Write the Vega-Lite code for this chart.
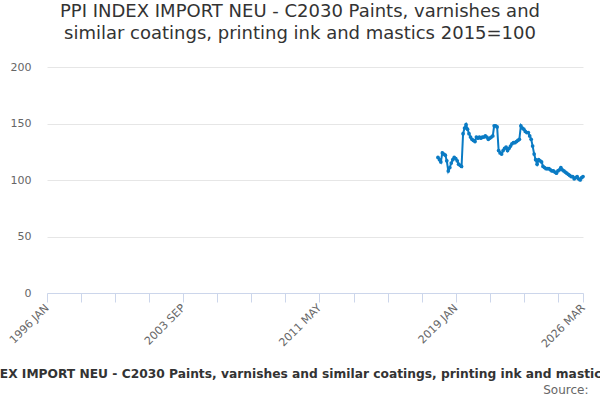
{
  "$schema": "https://vega.github.io/schema/vega-lite/v6.json",
  "width": 536,
  "height": 226,
  "autosize": {"type": "none"},
  "padding": {"left": 47, "top": 67, "right": 17, "bottom": 107},
  "background": "white",
  "config": {
    "font": "DejaVu Sans",
    "view": {"stroke": null}
  },
  "title": {
    "text": ["PPI INDEX IMPORT NEU - C2030 Paints, varnishes and", "similar coatings, printing ink and mastics 2015=100"],
    "fontSize": 18,
    "fontWeight": "normal",
    "color": "#333333",
    "anchor": "middle",
    "dx": -15,
    "offset": 18,
    "lineHeight": 22
  },
  "data": {
    "values": [
      {"date": "2018-01-01", "value": 120},
      {"date": "2018-02-01", "value": 118},
      {"date": "2018-03-01", "value": 116},
      {"date": "2018-04-01", "value": 124},
      {"date": "2018-05-01", "value": 123},
      {"date": "2018-06-01", "value": 122},
      {"date": "2018-07-01", "value": 117},
      {"date": "2018-08-01", "value": 108},
      {"date": "2018-09-01", "value": 111},
      {"date": "2018-10-01", "value": 115},
      {"date": "2018-11-01", "value": 118},
      {"date": "2018-12-01", "value": 120},
      {"date": "2019-01-01", "value": 119},
      {"date": "2019-02-01", "value": 117},
      {"date": "2019-03-01", "value": 114},
      {"date": "2019-04-01", "value": 113},
      {"date": "2019-05-01", "value": 112},
      {"date": "2019-06-01", "value": 141},
      {"date": "2019-07-01", "value": 146},
      {"date": "2019-08-01", "value": 149},
      {"date": "2019-09-01", "value": 145},
      {"date": "2019-10-01", "value": 141},
      {"date": "2019-11-01", "value": 138},
      {"date": "2019-12-01", "value": 136},
      {"date": "2020-01-01", "value": 135},
      {"date": "2020-02-01", "value": 134},
      {"date": "2020-03-01", "value": 138},
      {"date": "2020-04-01", "value": 137},
      {"date": "2020-05-01", "value": 138},
      {"date": "2020-06-01", "value": 137},
      {"date": "2020-07-01", "value": 138},
      {"date": "2020-08-01", "value": 138},
      {"date": "2020-09-01", "value": 139},
      {"date": "2020-10-01", "value": 138},
      {"date": "2020-11-01", "value": 136},
      {"date": "2020-12-01", "value": 137},
      {"date": "2021-01-01", "value": 138},
      {"date": "2021-02-01", "value": 139},
      {"date": "2021-03-01", "value": 148},
      {"date": "2021-04-01", "value": 148},
      {"date": "2021-05-01", "value": 147},
      {"date": "2021-06-01", "value": 126},
      {"date": "2021-07-01", "value": 124},
      {"date": "2021-08-01", "value": 123},
      {"date": "2021-09-01", "value": 126},
      {"date": "2021-10-01", "value": 128},
      {"date": "2021-11-01", "value": 129},
      {"date": "2021-12-01", "value": 126},
      {"date": "2022-01-01", "value": 128},
      {"date": "2022-02-01", "value": 130},
      {"date": "2022-03-01", "value": 132},
      {"date": "2022-04-01", "value": 133},
      {"date": "2022-05-01", "value": 133},
      {"date": "2022-06-01", "value": 134},
      {"date": "2022-07-01", "value": 135},
      {"date": "2022-08-01", "value": 136},
      {"date": "2022-09-01", "value": 148},
      {"date": "2022-10-01", "value": 146},
      {"date": "2022-11-01", "value": 145},
      {"date": "2022-12-01", "value": 143},
      {"date": "2023-01-01", "value": 142},
      {"date": "2023-02-01", "value": 142},
      {"date": "2023-03-01", "value": 139},
      {"date": "2023-04-01", "value": 136},
      {"date": "2023-05-01", "value": 130},
      {"date": "2023-06-01", "value": 123},
      {"date": "2023-07-01", "value": 118},
      {"date": "2023-08-01", "value": 114},
      {"date": "2023-09-01", "value": 118},
      {"date": "2023-10-01", "value": 117},
      {"date": "2023-11-01", "value": 116},
      {"date": "2023-12-01", "value": 112},
      {"date": "2024-01-01", "value": 111},
      {"date": "2024-02-01", "value": 110},
      {"date": "2024-03-01", "value": 110},
      {"date": "2024-04-01", "value": 110},
      {"date": "2024-05-01", "value": 109},
      {"date": "2024-06-01", "value": 108},
      {"date": "2024-07-01", "value": 108},
      {"date": "2024-08-01", "value": 107},
      {"date": "2024-09-01", "value": 106},
      {"date": "2024-10-01", "value": 108},
      {"date": "2024-11-01", "value": 109},
      {"date": "2024-12-01", "value": 111},
      {"date": "2025-01-01", "value": 109},
      {"date": "2025-02-01", "value": 108},
      {"date": "2025-03-01", "value": 107},
      {"date": "2025-04-01", "value": 106},
      {"date": "2025-05-01", "value": 105},
      {"date": "2025-06-01", "value": 104},
      {"date": "2025-07-01", "value": 103},
      {"date": "2025-08-01", "value": 103},
      {"date": "2025-09-01", "value": 101},
      {"date": "2025-10-01", "value": 102},
      {"date": "2025-11-01", "value": 103},
      {"date": "2025-12-01", "value": 101},
      {"date": "2026-01-01", "value": 100},
      {"date": "2026-02-01", "value": 102},
      {"date": "2026-03-01", "value": 103}
    ]
  },
  "mark": {
    "type": "line",
    "color": "#0a7bc4",
    "strokeWidth": 2,
    "point": {"filled": true, "size": 14, "color": "#0a7bc4"}
  },
  "encoding": {
    "x": {
      "field": "date",
      "type": "temporal",
      "scale": {
        "type": "utc",
        "domain": [
          {"year": 1996, "month": 1, "date": 1, "utc": true},
          {"year": 2026, "month": 3, "date": 1, "utc": true}
        ]
      },
      "axis": {
        "values": [
          {"year": 1996, "month": 1, "date": 1, "utc": true},
          {"year": 1997, "month": 12, "date": 1, "utc": true},
          {"year": 1999, "month": 11, "date": 1, "utc": true},
          {"year": 2001, "month": 10, "date": 1, "utc": true},
          {"year": 2003, "month": 9, "date": 1, "utc": true},
          {"year": 2005, "month": 8, "date": 1, "utc": true},
          {"year": 2007, "month": 7, "date": 1, "utc": true},
          {"year": 2009, "month": 6, "date": 1, "utc": true},
          {"year": 2011, "month": 5, "date": 1, "utc": true},
          {"year": 2013, "month": 4, "date": 1, "utc": true},
          {"year": 2015, "month": 3, "date": 1, "utc": true},
          {"year": 2017, "month": 2, "date": 1, "utc": true},
          {"year": 2019, "month": 1, "date": 1, "utc": true},
          {"year": 2020, "month": 12, "date": 1, "utc": true},
          {"year": 2022, "month": 11, "date": 1, "utc": true},
          {"year": 2024, "month": 10, "date": 1, "utc": true},
          {"year": 2026, "month": 3, "date": 1, "utc": true}
        ],
        "labelExpr": "indexof(['1996-01','2003-09','2011-05','2019-01','2026-03'], utcFormat(datum.value, '%Y-%m')) >= 0 ? upper(utcFormat(datum.value, '%Y %b')) : ''",
        "labelAngle": -45,
        "labelAlign": "right",
        "labelBaseline": "middle",
        "labelPadding": 4,
        "labelFontSize": 11,
        "labelColor": "#666666",
        "labelOverlap": false,
        "labelFlush": false,
        "grid": false,
        "domainColor": "#ccd6eb",
        "tickColor": "#ccd6eb",
        "tickSize": 9,
        "title": "PPI INDEX IMPORT NEU - C2030 Paints, varnishes and similar coatings, printing ink and mastics 2015=100",
        "titleFontSize": 12.25,
        "titleFontWeight": "bold",
        "titleColor": "#333333",
        "titleX": 268,
        "titleY": 84,
        "titleAlign": "center",
        "titleBaseline": "alphabetic"
      }
    },
    "y": {
      "field": "value",
      "type": "quantitative",
      "scale": {"domain": [0, 200]},
      "axis": {
        "values": [0, 50, 100, 150, 200],
        "domain": false,
        "ticks": false,
        "labelPadding": 16,
        "labelFontSize": 11,
        "labelColor": "#666666",
        "gridColor": "#e6e6e6",
        "title": "Source:",
        "titleAngle": 0,
        "titleFontSize": 12,
        "titleFontWeight": "normal",
        "titleColor": "#666666",
        "titleX": 541,
        "titleY": 326,
        "titleAlign": "right",
        "titleBaseline": "alphabetic"
      }
    }
  }
}
